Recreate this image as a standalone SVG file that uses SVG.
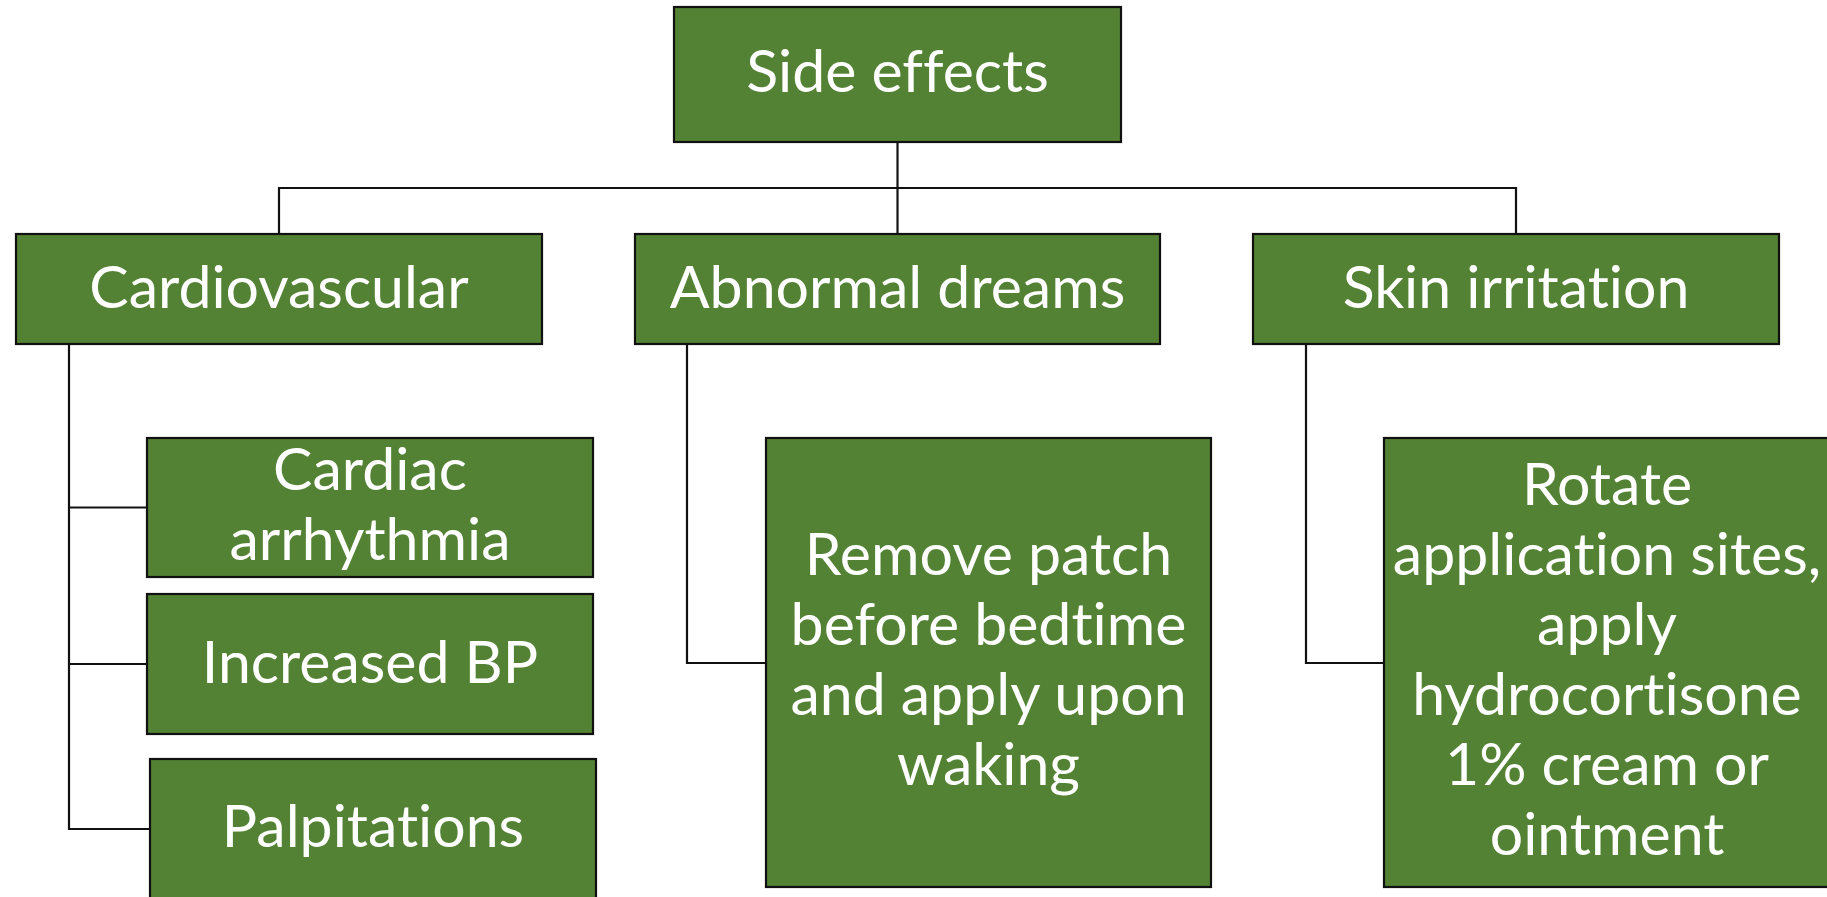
<svg xmlns="http://www.w3.org/2000/svg" width="1827" height="897" viewBox="0 0 1827 897">
  <style>
    .box { fill: #548235; stroke: #111; stroke-width: 2.2; }
    .lbl { fill: #fff; font-family: Lato, "Liberation Sans", sans-serif; font-size: 59px; text-anchor: middle; font-variant-ligatures: none; font-feature-settings: "liga" 0, "clig" 0; }
    .wire { fill: none; stroke: #111; stroke-width: 2.2; }
  </style>
  <rect width="1827" height="897" fill="#fff"/>

  <!-- tree connectors -->
  <g id="connectors">
    <path class="wire" d="M897.5,142 V188"/>
    <path class="wire" d="M279,234 V188 H1516 V234"/>
    <path class="wire" d="M897.5,188 V234"/>
    <path class="wire" d="M69,344 V829 H150"/>
    <path class="wire" d="M69,507.5 H147"/>
    <path class="wire" d="M69,664 H147"/>
    <path class="wire" d="M687,344 V663 H766"/>
    <path class="wire" d="M1306,344 V663 H1384"/>
  </g>

  <g id="side-effects">
    <rect class="box" x="674" y="7" width="447" height="135"/>
    <text class="lbl" x="897.5" y="92">Side effects</text>
  </g>

  <g id="cardiovascular">
    <rect class="box" x="16" y="234" width="526" height="110"/>
    <text class="lbl" x="279" y="308">Cardiovascular</text>
  </g>

  <g id="abnormal-dreams">
    <rect class="box" x="635" y="234" width="525" height="110"/>
    <text class="lbl" x="897.5" y="308">Abnormal dreams</text>
  </g>

  <g id="skin-irritation">
    <rect class="box" x="1253" y="234" width="526" height="110"/>
    <text class="lbl" x="1516" y="308">Skin irritation</text>
  </g>

  <g id="cardiac-arrhythmia">
    <rect class="box" x="147" y="438" width="446" height="139"/>
    <text class="lbl" x="370" y="490">Cardiac</text>
    <text class="lbl" x="370" y="560">arrhythmia</text>
  </g>

  <g id="increased-bp">
    <rect class="box" x="147" y="594" width="446" height="140"/>
    <text class="lbl" x="370" y="683">Increased BP</text>
  </g>

  <g id="palpitations">
    <rect class="box" x="150" y="759" width="446" height="140"/>
    <text class="lbl" x="373" y="847">Palpitations</text>
  </g>

  <g id="remove-patch">
    <rect class="box" x="766" y="438" width="445" height="449"/>
    <text class="lbl" x="988.5" y="575">Remove patch</text>
    <text class="lbl" x="988.5" y="645">before bedtime</text>
    <text class="lbl" x="988.5" y="715">and apply upon</text>
    <text class="lbl" x="988.5" y="785">waking</text>
  </g>

  <g id="rotate-sites">
    <rect class="box" x="1384" y="438" width="446" height="449"/>
    <text class="lbl" x="1607" y="505">Rotate</text>
    <text class="lbl" x="1607" y="575">application sites,</text>
    <text class="lbl" x="1607" y="645">apply</text>
    <text class="lbl" x="1607" y="715">hydrocortisone</text>
    <text class="lbl" x="1607" y="785">1% cream or</text>
    <text class="lbl" x="1607" y="855">ointment</text>
  </g>
</svg>
